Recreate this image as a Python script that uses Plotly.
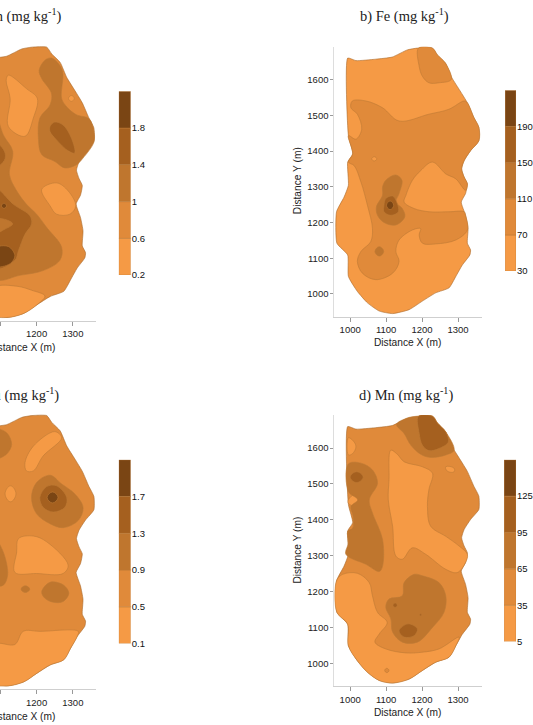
import plotly.graph_objects as go

WIDTH, HEIGHT = 533, 725

# Contour band colours, low to high
BAND_COLORS = ["#f59a45", "#e08a3a", "#bf762e", "#a5601f", "#7a4514"]
EDGE_COLOR = "#bd7a36"
RIM_COLOR = "#aa6a2c"

# Class limits printed on each colour scale
ZN_LIMITS = [0.2, 0.6, 1.0, 1.4, 1.8, 2.2]
FE_LIMITS = [30, 70, 110, 150, 190, 230]
CU_LIMITS = [0.1, 0.5, 0.9, 1.3, 1.7, 2.1]
MN_LIMITS = [5, 35, 65, 95, 125, 155]
ZN_LABELS = ["0.2", "0.6", "1", "1.4", "1.8"]
FE_LABELS = ["30", "70", "110", "150", "190"]
CU_LABELS = ["0.1", "0.5", "0.9", "1.3", "1.7"]
MN_LABELS = ["5", "35", "65", "95", "125"]

X_TICKS = [1000, 1100, 1200, 1300]
Y_TICKS = [1000, 1100, 1200, 1300, 1400, 1500, 1600]

# Outline of the surveyed area (X m, Y m)
AREA = [(993, 1660), (1016, 1653), (1071, 1657), (1117, 1663), (1159, 1683), (1187, 1688), (1228, 1688),
        (1242, 1669), (1265, 1646), (1283, 1605), (1306, 1568), (1326, 1535), (1344, 1494), (1358, 1466),
        (1358, 1429), (1335, 1401), (1317, 1373), (1310, 1350), (1317, 1327), (1326, 1308), (1321, 1281),
        (1309, 1257), (1321, 1220), (1328, 1183), (1326, 1142), (1335, 1123), (1333, 1109), (1312, 1081),
        (1294, 1049), (1275, 1017), (1238, 1003), (1201, 980), (1164, 956), (1118, 945), (1081, 952),
        (1048, 975), (1020, 1007), (995, 1049), (993, 1109), (963, 1142), (962, 1230), (983, 1271),
        (995, 1304), (993, 1369), (1007, 1392), (995, 1443)]

# Iron isolines
FE_NORTH = [(1190, 1688), (1229, 1688), (1243, 1669), (1265, 1646), (1281, 1600), (1247, 1591), (1219, 1591),
            (1201, 1609), (1192, 1637)]
FE_BELT = [(1006, 1540), (1044, 1540), (1090, 1521), (1136, 1484), (1219, 1503), (1275, 1517), (1317, 1540),
           (1326, 1535), (1344, 1494), (1358, 1466), (1358, 1429), (1335, 1401), (1317, 1373), (1310, 1350),
           (1317, 1327), (1326, 1308), (1321, 1290), (1294, 1322), (1266, 1336), (1229, 1369), (1196, 1345),
           (1173, 1318), (1155, 1276), (1150, 1257), (1178, 1239), (1219, 1230), (1275, 1230), (1317, 1230),
           (1321, 1220), (1326, 1179), (1294, 1151), (1238, 1140), (1201, 1142), (1192, 1165), (1196, 1183),
           (1173, 1179), (1136, 1151), (1127, 1119), (1136, 1091), (1118, 1058), (1071, 1040), (1034, 1058),
           (1020, 1091), (1030, 1119), (1057, 1146), (1062, 1183), (1048, 1248), (1030, 1313), (1011, 1359),
           (995, 1369), (1007, 1392), (995, 1443), (1016, 1433), (1032, 1461), (1020, 1503), (1002, 1521)]
FE_SPOT = [(1060, 1378), (1067, 1384), (1074, 1378), (1067, 1372)]
FE_PEAK = [(1099, 1318), (1127, 1333), (1144, 1318), (1136, 1281), (1127, 1257), (1145, 1239), (1152, 1216),
           (1127, 1193), (1094, 1200), (1076, 1220), (1073, 1244), (1090, 1276), (1090, 1299)]
FE_KNOB = [(1069, 1119), (1081, 1132), (1093, 1119), (1081, 1106)]
FE_CORE = [(1099, 1267), (1118, 1274), (1131, 1253), (1134, 1230), (1113, 1220), (1094, 1230), (1094, 1248)]
FE_TOP = [(1101, 1248), (1111, 1260), (1121, 1248), (1111, 1236)]
FE_LAYERS = [(1, FE_NORTH), (1, FE_BELT), (0, FE_SPOT), (2, FE_PEAK), (2, FE_KNOB), (3, FE_CORE), (4, FE_TOP)]

# Manganese isolines
MN_NW = [(995, 1629), (1011, 1617), (1016, 1603), (1007, 1585), (995, 1581)]
MN_WEST = [(995, 1456), (1011, 1470), (1023, 1451), (1011, 1439), (995, 1446)]
MN_CENTRE = [(1113, 1594), (1131, 1583), (1150, 1562), (1201, 1548), (1229, 1530), (1219, 1484), (1215, 1437),
             (1224, 1382), (1266, 1354), (1303, 1327), (1326, 1304), (1321, 1281), (1298, 1253), (1266, 1262),
             (1210, 1304), (1173, 1322), (1145, 1290), (1127, 1299), (1118, 1382), (1106, 1456), (1108, 1511)]
MN_NE = [(1266, 1548), (1289, 1544), (1289, 1534), (1270, 1536)]
MN_SOUTH = [(979, 1248), (1020, 1251), (1053, 1225), (1062, 1188), (1076, 1142), (1103, 1114), (1081, 1082),
            (1069, 1059), (1099, 1040), (1155, 1029), (1201, 1031), (1247, 1040), (1303, 1073), (1294, 1049),
            (1275, 1017), (1238, 1003), (1201, 980), (1164, 956), (1118, 945), (1081, 952), (1048, 975),
            (1020, 1007), (995, 1049), (993, 1109), (963, 1142), (962, 1230)]
MN_DOT = [(1096, 980), (1102, 986), (1108, 980), (1102, 974)]
MN_CROWN = [(1129, 1666), (1159, 1684), (1187, 1689), (1229, 1689), (1243, 1670), (1266, 1645), (1289, 1594),
            (1266, 1581), (1224, 1574), (1196, 1583), (1169, 1608), (1150, 1641)]
MN_CROWN_CORE = [(1190, 1689), (1229, 1689), (1243, 1670), (1266, 1645), (1273, 1617), (1247, 1599), (1219, 1593),
                 (1201, 1608), (1192, 1641)]
MN_SPINE = [(995, 1556), (1030, 1558), (1062, 1539), (1076, 1502), (1053, 1456), (1062, 1419), (1090, 1345),
            (1090, 1271), (1081, 1256), (1044, 1276), (988, 1304), (995, 1336), (993, 1368), (1007, 1377),
            (1008, 1410), (1002, 1437), (1021, 1456), (995, 1479)]
MN_SPINE_CORE = [(1000, 1519), (1018, 1534), (1036, 1519), (1018, 1504)]
MN_BASIN = [(1178, 1248), (1201, 1244), (1247, 1225), (1266, 1188), (1261, 1142), (1229, 1100), (1187, 1059),
            (1145, 1059), (1118, 1087), (1113, 1124), (1099, 1156), (1108, 1179), (1145, 1188), (1150, 1225)]
MN_BASIN_CORE = [(1136, 1091), (1161, 1110), (1187, 1096), (1178, 1077), (1150, 1073)]
MN_FLECK = [(1119, 1162), (1125, 1168), (1131, 1162), (1125, 1156)]
MN_FLECK_E = [(1193, 1135), (1196, 1138), (1199, 1135), (1196, 1132)]
MN_LAYERS = [(0, MN_NW), (0, MN_WEST), (0, MN_CENTRE), (0, MN_NE), (0, MN_SOUTH), (1, MN_DOT), (2, MN_CROWN),
             (3, MN_CROWN_CORE), (2, MN_SPINE), (3, MN_SPINE_CORE), (2, MN_BASIN), (3, MN_BASIN_CORE),
             (3, MN_FLECK), (3, MN_FLECK_E)]

# Zinc isolines
ZN_LOBE = [(1122, 1611), (1172, 1574), (1202, 1547), (1191, 1493), (1168, 1443), (1122, 1470), (1127, 1547),
           (1116, 1597)]
ZN_EAST = [(1214, 1297), (1255, 1315), (1287, 1293), (1308, 1252), (1292, 1229), (1255, 1229), (1237, 1252)]
ZN_SPECK = [(1288, 1547), (1296, 1555), (1304, 1547), (1296, 1539)]
ZN_SOUTH = [(1085, 1027), (1145, 1031), (1186, 1020), (1223, 1004), (1201, 980), (1164, 956), (1118, 945),
            (1081, 952)]
ZN_RIDGE = [(1207, 1624), (1223, 1652), (1241, 1658), (1260, 1643), (1272, 1620), (1269, 1547), (1283, 1524),
            (1310, 1502), (1345, 1491), (1358, 1456), (1358, 1427), (1328, 1383), (1310, 1365), (1278, 1356),
            (1250, 1374), (1214, 1393), (1205, 1438), (1209, 1493), (1237, 1529), (1241, 1561), (1214, 1602)]
ZN_RIDGE_CORE = [(1237, 1470), (1250, 1482), (1273, 1474), (1296, 1438), (1305, 1397), (1287, 1403), (1255, 1433),
                 (1237, 1456)]
ZN_MASS = [(1085, 1511), (1108, 1447), (1134, 1402), (1125, 1338), (1145, 1293), (1172, 1256), (1200, 1229),
           (1228, 1192), (1269, 1138), (1264, 1102), (1218, 1074), (1154, 1061), (1085, 1052)]
ZN_UPPER = [(1085, 1425), (1113, 1397), (1106, 1370), (1085, 1362)]
ZN_LOWER = [(1085, 1300), (1136, 1256), (1182, 1224), (1186, 1202), (1168, 1174), (1150, 1129), (1140, 1102),
            (1085, 1080)]
ZN_HOLE = [(1085, 1215), (1134, 1203), (1113, 1188), (1085, 1178)]
ZN_HIGH = [(1085, 1135), (1122, 1140), (1140, 1115), (1127, 1093), (1085, 1086)]
ZN_POINT = [(1103, 1252), (1110, 1259), (1117, 1252), (1110, 1245)]
ZN_LAYERS = [(0, ZN_LOBE), (0, ZN_EAST), (0, ZN_SPECK), (0, ZN_SOUTH), (2, ZN_RIDGE), (3, ZN_RIDGE_CORE),
             (2, ZN_MASS), (3, ZN_UPPER), (3, ZN_LOWER), (2, ZN_HOLE), (4, ZN_HIGH), (4, ZN_POINT)]

# Copper isolines
CU_STRIP = [(1168, 1559), (1191, 1604), (1250, 1644), (1269, 1627), (1218, 1577), (1191, 1536), (1172, 1536)]
CU_ISLE = [(1113, 1473), (1128, 1495), (1143, 1473), (1128, 1451)]
CU_MIDDLE = [(1150, 1350), (1191, 1357), (1228, 1341), (1287, 1277), (1273, 1254), (1200, 1254), (1140, 1257),
             (1145, 1313)]
CU_SOUTH = [(1085, 1059), (1140, 1059), (1163, 1095), (1209, 1095), (1315, 1095), (1312, 1081), (1294, 1049),
            (1275, 1017), (1238, 1003), (1201, 980), (1164, 956), (1118, 945), (1081, 952)]
CU_NORTH = [(1085, 1650), (1117, 1641), (1131, 1609), (1117, 1582), (1085, 1570)]
CU_RING = [(1186, 1463), (1200, 1504), (1237, 1524), (1269, 1500), (1305, 1473), (1328, 1436), (1315, 1400),
           (1273, 1380), (1237, 1391), (1200, 1418)]
CU_RING_MID = [(1209, 1463), (1228, 1493), (1255, 1495), (1283, 1463), (1278, 1436), (1246, 1423), (1218, 1436)]
CU_RING_TOP = [(1229, 1463), (1244, 1478), (1259, 1463), (1244, 1448)]
CU_BAND = [(1085, 1350), (1108, 1313), (1120, 1250), (1108, 1222), (1085, 1222)]
CU_BLOB = [(1214, 1204), (1237, 1230), (1273, 1223), (1289, 1200), (1273, 1177), (1246, 1175), (1223, 1186)]
CU_DOT = [(1157, 1211), (1169, 1220), (1181, 1211), (1169, 1202)]
CU_LAYERS = [(0, CU_STRIP), (0, CU_ISLE), (0, CU_MIDDLE), (0, CU_SOUTH), (2, CU_NORTH), (2, CU_RING),
             (3, CU_RING_MID), (4, CU_RING_TOP), (2, CU_BAND), (2, CU_BLOB), (2, CU_DOT)]


def dom_x(left, right):
    return [left / WIDTH, right / WIDTH]


def dom_y(top, bottom):
    return [1 - bottom / HEIGHT, 1 - top / HEIGHT]


TICK_FONT = dict(family="Liberation Sans, Arial, sans-serif", size=9.5, color="#222222")
LABEL_FONT = dict(family="Liberation Sans, Arial, sans-serif", size=10.2, color="#222222")
TITLE_FONT = dict(family="Liberation Serif, Times New Roman, serif", size=14.5, color="#222222")

fig = go.Figure()
layout = dict(width=WIDTH, height=HEIGHT, margin=dict(l=0, r=0, t=0, b=0), showlegend=False,
              paper_bgcolor="white", plot_bgcolor="white", barmode="overlay", annotations=[])


def polygon(points, band, xa, ya, color=EDGE_COLOR, smoothing=1.0):
    # Four-point isolines are the small closed spots, rounded off harder
    if len(points) == 4:
        smoothing = 1.3
    xs = [p[0] for p in points] + [points[0][0]]
    ys = [p[1] for p in points] + [points[0][1]]
    fig.add_trace(go.Scatter(x=xs, y=ys, xaxis=xa, yaxis=ya, mode="lines", fill="toself",
                             fillcolor=BAND_COLORS[band], hoverinfo="skip",
                             line=dict(color=color, width=0.6, shape="spline", smoothing=smoothing)))


def note(text, x, y, font, angle=0, anchor="center"):
    layout["annotations"].append(dict(text=text, x=x / WIDTH, y=1 - y / HEIGHT, xref="paper", yref="paper",
                                      showarrow=False, font=font, textangle=angle, xanchor=anchor,
                                      yanchor="middle"))


def panel(idx, layers, base, limits, labels, xdom, xrange, ydom, bar_x, bar_y, show_y):
    xa, ya = f"x{idx}", f"y{idx}"
    polygon(AREA, base, xa, ya, color=RIM_COLOR, smoothing=0.5)
    for band, pts in layers:
        polygon(pts, band, xa, ya)

    layout[f"xaxis{idx}"] = dict(domain=dom_x(*xdom), range=xrange, anchor=ya, tickmode="array", tickvals=X_TICKS,
                                 showgrid=False, zeroline=False, showline=True, linecolor="#cfcfcf", linewidth=1,
                                 ticks="outside", ticklen=4, tickcolor="#999999", tickfont=TICK_FONT)
    layout[f"yaxis{idx}"] = dict(domain=dom_y(*ydom), range=[936, 1692], anchor=xa, tickmode="array",
                                 tickvals=Y_TICKS if show_y else [], showgrid=False, zeroline=False,
                                 showline=show_y, linecolor="#dddddd", linewidth=1,
                                 ticks="outside" if show_y else "", ticklen=3, tickcolor="#999999",
                                 tickfont=TICK_FONT)

    # Colour scale drawn as stacked class bars on its own axes
    cx, cy = f"x{idx + 4}", f"y{idx + 4}"
    for band in range(5):
        low, high = limits[band], limits[band + 1]
        fig.add_trace(go.Bar(x=[0], y=[high - low], base=[low], width=[1], xaxis=cx, yaxis=cy, hoverinfo="skip",
                             marker=dict(color=BAND_COLORS[band], line=dict(color=EDGE_COLOR, width=0.5))))
    layout[f"xaxis{idx + 4}"] = dict(domain=dom_x(*bar_x), range=[-0.5, 0.5], anchor=cy, visible=False)
    layout[f"yaxis{idx + 4}"] = dict(domain=dom_y(*bar_y), range=[limits[0], limits[-1]], anchor=cx, side="right",
                                     tickmode="array", tickvals=limits[:5], ticktext=labels, showgrid=False,
                                     zeroline=False, showline=False, ticks="", ticklen=0,
                                     tickfont=dict(family=TICK_FONT["family"], size=9.5, color="#111111"))


LEFT_X = ((0, 96.6), [1099, 1365])
RIGHT_X = ((335, 483), [956, 1367])

panel(1, ZN_LAYERS, 1, ZN_LIMITS, ZN_LABELS, LEFT_X[0], LEFT_X[1], (46, 323), (119, 131), (92, 277), False)
panel(2, FE_LAYERS, 0, FE_LIMITS, FE_LABELS, RIGHT_X[0], RIGHT_X[1], (47, 319), (506, 517), (91, 273), True)
panel(3, CU_LAYERS, 1, CU_LIMITS, CU_LABELS, LEFT_X[0], LEFT_X[1], (417, 694), (119, 131), (463, 648), False)
panel(4, MN_LAYERS, 1, MN_LIMITS, MN_LABELS, RIGHT_X[0], RIGHT_X[1], (418, 691), (505, 517), (463, 646), True)

note("a) Zn (mg kg<sup>-1</sup>)", 64, 16, TITLE_FONT, anchor="right")
note("b) Fe (mg kg<sup>-1</sup>)", 405, 16, TITLE_FONT)
note("c) Cu (mg kg<sup>-1</sup>)", 61, 397, TITLE_FONT, anchor="right")
note("d) Mn (mg kg<sup>-1</sup>)", 407, 397, TITLE_FONT)
note("Distance X (m)", 22, 350, LABEL_FONT)
note("Distance X (m)", 408, 345, LABEL_FONT)
note("Distance X (m)", 22, 721, LABEL_FONT)
note("Distance X (m)", 408, 717, LABEL_FONT)
note("Distance Y (m)", 298, 182, LABEL_FONT, angle=-90)
note("Distance Y (m)", 298, 554, LABEL_FONT, angle=-90)

fig.update_layout(**layout)
fig.write_html("out.html")
